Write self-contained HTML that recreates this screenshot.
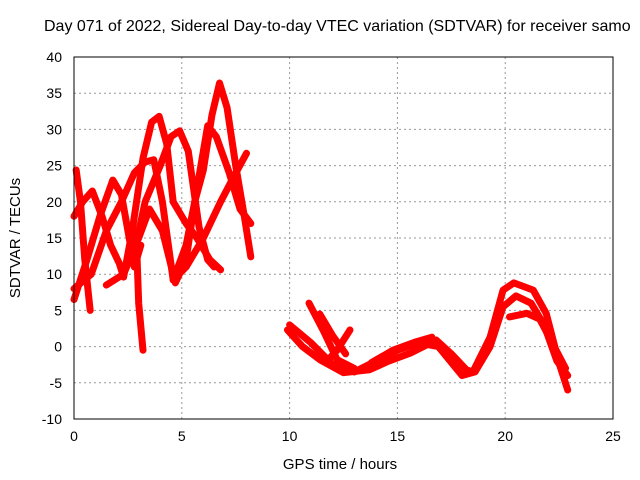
<!DOCTYPE html>
<html><head><meta charset="utf-8"><style>
body{margin:0;background:#fff}
svg{display:block;font-family:"Liberation Sans",sans-serif}
</style></head><body>
<svg id="chart" width="640" height="480" viewBox="0 0 640 480" xmlns="http://www.w3.org/2000/svg">
<rect width="640" height="480" fill="#fff"/>
<text x="44" y="31" font-size="16" text-anchor="start">Day 071 of 2022, Sidereal Day-to-day VTEC variation (SDTVAR) for receiver samo</text>
<text x="340" y="469" font-size="15" text-anchor="middle">GPS time / hours</text>
<text x="20" y="238" font-size="15" text-anchor="middle" transform="rotate(-90 20 238)">SDTVAR / TECUs</text>
<g id="grid"></g><g id="series"></g>
<rect x="74" y="57" width="539" height="362" fill="none" stroke="#000" stroke-width="1"/>
<g id="ticks"></g>
</svg>
<script>
const xTicks=[0,5,10,15,20,25];
const yTicks=[-10,-5,0,5,10,15,20,25,30,35,40];
const s1=[[0,6.5],[0.6,12],[1.2,18],[1.8,23],[2.2,21],[2.5,16],[2.8,11],[3.1,14]];
const s2=[[0.1,24.4],[0.3,20],[0.5,12],[0.75,5]];
const s3=[[0,18],[0.4,20],[0.85,21.5],[1.3,18],[1.7,14],[2.1,11.5],[2.3,9.6],[2.7,16],[3.2,26],[3.6,31],[3.95,31.8],[4.3,28],[4.6,20],[5.2,17],[5.7,15],[6.3,12],[6.8,10.6]];
const s4=[[3.2,-0.5],[3.0,6],[2.9,14.4],[3.3,20],[4,25],[4.5,29],[4.9,29.8],[5.3,27],[5.8,16.5],[6.2,12],[6.5,11]];
const s5=[[1.5,8.5],[2.3,10],[3,15],[3.5,19],[4.1,16],[4.7,8.8],[5.2,12],[5.6,20],[6,27],[6.2,30.5],[6.6,29],[7.2,24],[7.7,19],[8.2,17]];
const s6=[[4.6,9.2],[5.2,14],[5.6,20],[6,24.4],[6.4,32],[6.75,36.4],[7.1,33],[7.5,25],[7.9,18],[8.2,12.4]];
const s7=[[0,8],[0.8,10],[1.5,16],[2.2,20],[2.8,24],[3.3,25.5],[3.7,25.8],[4.1,20],[4.6,9.2],[5.2,11],[6,15],[6.8,20],[7.4,23.4],[8,26.7]];
const s8=[[9.9,2.3],[10.6,0],[11.4,-1.8],[12.5,-3.6],[13.7,-3.2],[14.6,-2],[15.6,-0.9],[16.8,0.9],[17.5,-1],[18.2,-3.2],[18.5,-3.5],[19.3,1.3],[19.9,7.8],[20.4,8.8],[21.3,7.8],[21.9,4.6],[22.5,-2.3],[22.9,-6]];
const s9=[[10,3],[11,0.5],[12,-2.5],[13,-3.5],[14,-2],[15,-0.5],[16,0.5],[16.9,0],[18,-4],[18.6,-3.5],[19.3,0],[19.9,5.5],[20.5,7],[21.2,6],[21.8,3],[22.4,-2],[22.9,-4]];
const s10=[[10.9,6],[11.6,2],[12.2,-1.8],[13,-3]];
const s11=[[11.4,4.5],[12,1.5],[12.6,-1]];
const s12=[[12.8,2.3],[12.2,-0.5],[11.8,-1.8]];
const s13=[[20.2,4.1],[21,4.6],[21.6,3.8],[22.1,1],[22.8,-3]];
const s14=[[13.8,-2.2],[14.8,-0.5],[15.8,0.6],[16.6,1.3]];
const allSeries=[s1,s2,s3,s4,s5,s6,s7,s8,s9,s10,s11,s12,s13,s14];
const X=v=>74+v*539/25, Y=v=>419-(v+10)*362/50;
const NS="http://www.w3.org/2000/svg";
const grid=document.getElementById('grid'),ticks=document.getElementById('ticks'),ser=document.getElementById('series');
function mk(tag,attrs,parent){const e=document.createElementNS(NS,tag);for(const k in attrs)e.setAttribute(k,attrs[k]);parent.appendChild(e);return e;}
xTicks.forEach(t=>{
 if(t>0&&t<25){const g=mk('line',{x1:X(t),x2:X(t),y1:57,y2:419,stroke:'#999','stroke-dasharray':'2,3'},grid);
 
 }
 const l=mk('text',{x:X(t),y:441,'font-size':14,'text-anchor':'middle'},ticks);l.textContent=t;
 
 
});
yTicks.forEach(t=>{
 if(t>-10&&t<40){const g=mk('line',{x1:74,x2:613,y1:Y(t),y2:Y(t),stroke:'#999','stroke-dasharray':'2,3'},grid);
 
 }
 const l=mk('text',{x:62,y:Y(t)+5,'font-size':14,'text-anchor':'end'},ticks);l.textContent=t;
 
 
});
allSeries.forEach((s,i)=>{
 const p=mk('polyline',{points:s.map(d=>X(d[0])+','+Y(d[1])).join(' '),fill:'none',stroke:'#f00','stroke-width':7,'stroke-linejoin':'round','stroke-linecap':'round'},ser);
 
 
});
</script>
</body></html>
